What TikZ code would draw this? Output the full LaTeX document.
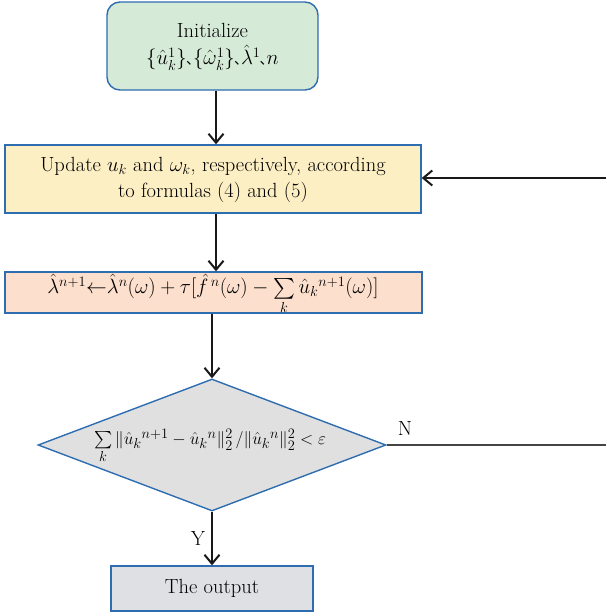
\documentclass[tikz,border=0pt]{standalone}
\usepackage{amsmath}
\usepackage{fontspec}
\newfontfamily\cjk{Noto Sans CJK SC}
\usetikzlibrary{shapes.geometric,arrows.meta}
\definecolor{bordblue}{HTML}{2E6DB0}
\definecolor{initfill}{HTML}{D6EAD8}
\definecolor{updfill}{HTML}{FDEFC4}
\definecolor{lamfill}{HTML}{FCDFCC}
\definecolor{diafill}{HTML}{E0E0E0}
\definecolor{outfill}{HTML}{DFE0E3}
\definecolor{linegray}{HTML}{444444}
\newcommand{\sepmark}{{\cjk\fontsize{14}{14}\selectfont\hspace{-0.05em}、\hspace{-0.5em}}}
\tikzset{
  boxbase/.style={draw=bordblue, line width=1.4pt, inner sep=0pt, align=center},
  arr/.style={draw=black!90, line width=2pt, -{Straight Barb[length=9pt,width=15pt,line width=2pt]}},
  plainline/.style={draw=linegray, line width=1.6pt},
  lbl/.style={inner sep=0pt, font=\fontsize{20.5}{26}\selectfont}
}
\begin{document}
\begin{tikzpicture}[x=1pt,y=-1pt]
\useasboundingbox (0,0) rectangle (606,616);
\node[boxbase, fill=initfill, rounded corners=13pt, minimum width=211pt, minimum height=88pt] (init) at (212.5,46) {};
\node[lbl] (initt) at (212.5,46) {\begin{tabular}{@{}c@{}}Initialize\\[-1pt]$\{\hat{u}_k^1\}$\sepmark$\{\hat{\omega}_k^1\}$\sepmark$\hat{\lambda}^1$\sepmark$n$\end{tabular}};
\node[boxbase, fill=updfill, minimum width=416pt, minimum height=68pt] (upd) at (213,179) {};
\node[lbl] (updt) at (213,179) {\begin{tabular}{@{}c@{}}Update $u_k$ and $\omega_k$, respectively, according\\to formulas (4) and (5)\end{tabular}};
\node[boxbase, fill=lamfill, minimum width=417pt, minimum height=41pt] (lam) at (213.5,292.5) {};
\node[lbl] (lamt) at (213,294) {$\hat{\lambda}^{n+1}{\leftarrow}\hat{\lambda}^n(\omega)+\tau[\hat{f}^{\,n}(\omega)-\sum\limits_k\hat{u}_k{}^{n+1}(\omega)]$};
\node[boxbase, fill=diafill, shape=diamond, minimum width=348pt, minimum height=132pt] (dia) at (212,445) {};
\node[lbl, font=\fontsize{19}{24}\selectfont] (diat) at (210,446) {$\sum\limits_k\|\hat{u}_k{}^{n+1}-\hat{u}_k{}^n\|_2^2\,/\|\hat{u}_k{}^n\|_2^2<\varepsilon$};
\node[boxbase, fill=outfill, minimum width=202pt, minimum height=45pt] (out) at (212,588.5) {};
\node[lbl] (outt) at (212,588.5) {The output};
\coordinate (rightA) at (606,445);
\coordinate (rightB) at (606,178);
\draw[arr] (216,0 |- init.south) -- (216,0 |- upd.north);
\draw[arr] (216,0 |- upd.south) -- (216,0 |- lam.north);
\draw[arr] (212,0 |- lam.south) -- (dia.north);
\draw[arr] (dia.south) -- (out.north);
\draw[plainline] (dia.east) -- (rightA);
\draw[arr] (rightB) -- (upd.east |- rightB);
\node[lbl] (nlab) at (405,428) {N};
\node[lbl] (ylab) at (198,538) {Y};
\end{tikzpicture}
\end{document}
